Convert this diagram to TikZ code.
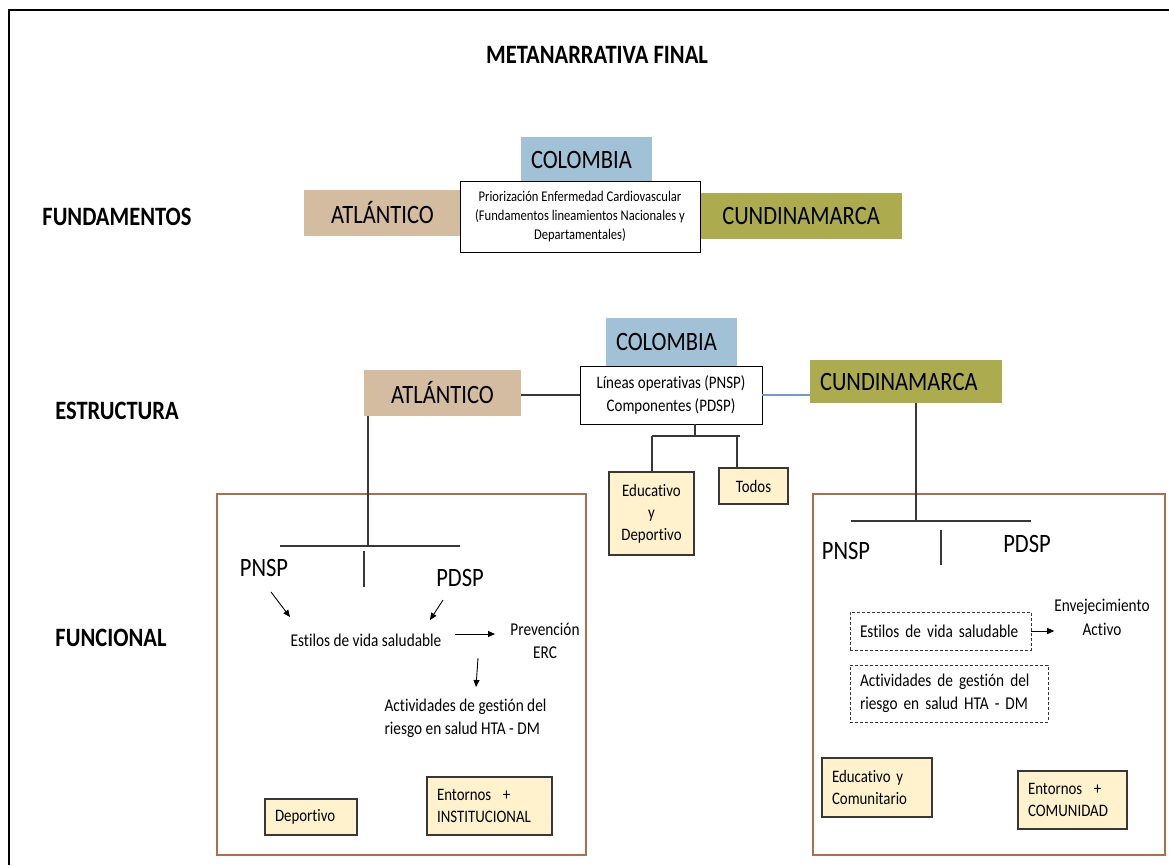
\documentclass[tikz,border=0pt]{standalone}
\usepackage{fontspec}
\setmainfont{Carlito}[FakeStretch=0.85, Ligatures=NoCommon]
\usetikzlibrary{arrows.meta,calc}
\definecolor{cblue}{RGB}{161,193,215}
\definecolor{ctan}{RGB}{212,188,161}
\definecolor{colive}{RGB}{172,172,78}
\definecolor{cyel}{RGB}{255,242,204}
\definecolor{cbrown}{RGB}{170,110,80}
\definecolor{clink}{RGB}{120,150,210}
\definecolor{cline}{RGB}{55,55,55}
\begin{document}
\begin{tikzpicture}[x=1pt,y=-1pt,
  heading/.style={font=\fontsize{26.5}{30}\selectfont\bfseries, inner sep=0pt},
  colbox/.style={inner sep=0pt, outer sep=0pt, font=\fontsize{26.5}{30}\selectfont},
  leftlab/.style={inner xsep=10pt, text width=#1, align=left},
  whitebox/.style={draw=black, line width=1pt, fill=white, inner sep=0pt, outer sep=0pt, align=center},
  yelbox/.style={draw=cline, line width=1.2pt, fill=cyel, inner ysep=0pt, outer sep=0pt, font=\fontsize{17.5}{22}\selectfont},
  dashbox/.style={draw=cline, line width=0.9pt, dash pattern=on 3pt off 2pt, inner ysep=0pt, inner xsep=10pt, outer sep=0pt, align=left, font=\fontsize{18}{23}\selectfont},
  frame/.style={draw=cbrown, line width=1.3pt, inner sep=0pt, outer sep=0pt},
  txt/.style={inner sep=0pt, font=\fontsize{18}{23}\selectfont},
  big/.style={inner sep=0pt, font=\fontsize{26.5}{30}\selectfont},
  ln/.style={draw=cline, line width=1.1pt},
  arr/.style={draw=black, line width=0.9pt, -{Triangle[length=7pt,width=6pt]}}
]
\useasboundingbox (0,0) rectangle (1169,865);
\fill[white] (0,0) rectangle (1169,865);

% outer frame (top and left only)
\coordinate (ftl) at (9,10);
\coordinate (ftr) at (1169,10);
\coordinate (fbl) at (9,865);
\draw[black, line width=2pt] (ftr) -- (ftl) -- (fbl);

% headings
\node[heading] (title) at (597,55) {METANARRATIVA FINAL};
\node[heading] (hfund) at (117,217) {FUNDAMENTOS};
\node[heading] (hest) at (117,411) {ESTRUCTURA};
\node[heading] (hfun) at (111,638) {FUNCIONAL};

% ---- Fundamentos ----
\node[colbox, fill=cblue, minimum height=46, leftlab=111] (col1) at (586.5,160) {COLOMBIA};
\node[colbox, fill=ctan, minimum width=157, minimum height=46] (atl1) at (382.5,213) {ATLÁNTICO};
\node[colbox, fill=colive, minimum width=202, minimum height=46] (cun1) at (801,216) {CUNDINAMARCA};
\node[whitebox, minimum width=240, minimum height=71, font=\fontsize{14.8}{19}\selectfont] (pri) at (580,216.5)
  {Priorización Enfermedad Cardiovascular\\(Fundamentos lineamientos Nacionales y\\Departamentales)};

% ---- Estructura ----
\node[colbox, fill=cblue, minimum height=48, leftlab=111] (col2) at (671.5,342) {COLOMBIA};
\node[colbox, fill=ctan, minimum width=157, minimum height=46] (atl2) at (442.5,393) {ATLÁNTICO};
\node[colbox, fill=colive, minimum height=43, leftlab=172] (cun2) at (906,381.5) {CUNDINAMARCA};
\node[whitebox, minimum width=182, minimum height=58, font=\fontsize{17.6}{23}\selectfont] (lin) at (671,395)
  {Líneas operativas (PNSP)\\Componentes (PDSP)};

\draw[ln] (atl2.east |- lin.west) -- (lin.west);
\draw[draw=clink, line width=1.1pt] (lin.east) -- (cun2.west |- lin.east);

\node[yelbox, align=center, text width=85, inner xsep=0pt, minimum height=83] (edu) at (651.5,513.5) {Educativo\\y\\Deportivo};
\node[yelbox, align=center, text width=69, inner xsep=0pt, minimum height=36] (tod) at (753.5,486) {Todos};

\coordinate (tj) at (695,436);
\coordinate (th1) at (652,436);
\coordinate (th2) at (740,436);
\draw[ln] (lin.south -| tj) -- (tj);
\draw[ln] (th1) -- (th2);
\draw[ln] (th1) -- (edu.north -| th1);
\draw[ln] (tod.north -| 737,0) -- (737,436);

% ---- Funcional left ----
\node[frame, minimum width=369, minimum height=361] (fl) at (401.5,674.5) {};
\coordinate (lj) at (368,546);
\draw[ln] (atl2.south -| lj) -- (lj);
\coordinate (lh1) at (280,546);
\coordinate (lh2) at (460,546);
\draw[ln] (lh1) -- (lh2);
\coordinate (ld1) at (364,551);
\coordinate (ld2) at (364,587);
\draw[ln] (ld1) -- (ld2);

\node[big] (pnspL) at (264,568) {PNSP};
\node[big] (pdspL) at (460,578) {PDSP};
\node[txt] (estL) at (366,640) {Estilos de vida saludable};
\node[txt, align=center] (prevL) at (545,641) {Prevención\\ERC};
\node[txt, align=left] (actL) at (465.5,718) {Actividades de gestión del\\riesgo en salud HTA - DM};

\coordinate (a1s) at (271,592); \coordinate (a1e) at (290,617);
\coordinate (a2s) at (443,600); \coordinate (a2e) at (430,620);
\coordinate (a4s) at (478,658); \coordinate (a4e) at (476,687);
\draw[arr] (a1s) -- (a1e);
\draw[arr] (a2s) -- (a2e);
\coordinate (a3s) at (455,634); \coordinate (a3e) at (495,634);
\draw[arr] (a3s) -- (a3e);
\draw[arr] (a4s) -- (a4e);

\node[yelbox, align=left, text width=72, inner xsep=10pt, minimum height=36] (depL) at (311,817) {Deportivo};
\node[yelbox, align=left, text width=105, inner xsep=10pt, minimum height=58] (entL) at (489.5,806) {Entornos~~+\\INSTITUCIONAL};

% ---- Funcional right ----
\node[frame, minimum width=352, minimum height=361] (fr) at (989,674.5) {};
\coordinate (rj) at (916,521);
\draw[ln] (cun2.south -| rj) -- (rj);
\coordinate (rh1) at (851,521);
\coordinate (rh2) at (1031,521);
\draw[ln] (rh1) -- (rh2);
\coordinate (rd1) at (941,530);
\coordinate (rd2) at (941,565);
\draw[ln] (rd1) -- (rd2);

\node[big] (pnspR) at (846,551) {PNSP};
\node[big] (pdspR) at (1027,544) {PDSP};

\node[dashbox, text width=161, minimum height=38] (estR) at (940.5,631) {Estilos de vida saludable};
\node[dashbox, text width=178, minimum height=57] (actR) at (949,693.5) {Actividades de gestión del\\riesgo en salud HTA - DM};
\node[txt, align=center, font=\fontsize{18}{24}\selectfont] (env) at (1102,617) {Envejecimiento\\Activo};
\draw[arr] (estR.east) -- (env.west |- estR.east);

\node[yelbox, align=left, text width=90, inner xsep=10pt, minimum height=59] (eduR) at (877,787.5) {Educativo y\\Comunitario};
\node[yelbox, align=left, text width=89, inner xsep=10pt, minimum height=58] (entR) at (1072.5,800) {Entornos~~+\\COMUNIDAD};
\end{tikzpicture}
\end{document}
